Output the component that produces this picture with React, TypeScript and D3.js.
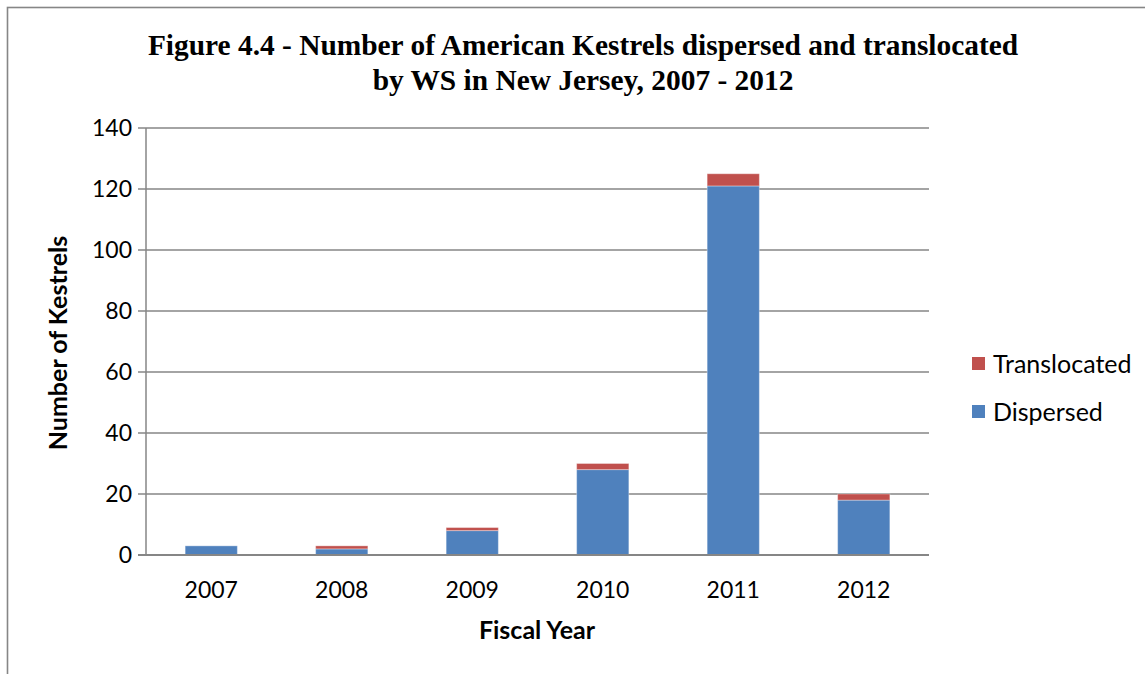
import React from "react";
import * as d3 from "d3";

const years = ["2007", "2008", "2009", "2010", "2011", "2012"];
const dispersed = [3, 2, 8, 28, 121, 18];
const translocated = [0, 1, 1, 2, 4, 2];
const yTicks = [0, 20, 40, 60, 80, 100, 120, 140];
const seriesNames = ["Dispersed", "Translocated"];
const seriesColors = ["#4F81BD", "#C0504D"];
const titleLines = [
  "Figure 4.4 - Number of American Kestrels dispersed and translocated",
  "by WS in New Jersey, 2007 - 2012",
];

const W = 1145;
const H = 674;
const plot = { left: 146, right: 929, top: 128, bottom: 555 };
const sans = "Lato, 'Open Sans', sans-serif";
const serif = "'Liberation Serif', 'Times New Roman', serif";

export default function App() {
  const x = d3
    .scaleBand<string>()
    .domain(years)
    .range([plot.left, plot.right])
    .paddingInner(0.6)
    .paddingOuter(0.3);
  const y = d3.scaleLinear().domain([0, 140]).range([plot.bottom, plot.top]);

  const rows = years.map((yr, i) => ({ yr, Dispersed: dispersed[i], Translocated: translocated[i] }));
  const stack = d3.stack<any>().keys(seriesNames)(rows);

  return (
    <svg
      width={W}
      height={H}
      style={{ position: "absolute", left: 0, top: 0, background: "#fff" }}
    >
      <rect x={7.5} y={7.5} width={W + 10} height={H + 10} fill="#fff" stroke="#868686" strokeWidth={1.6} />
      {titleLines.map((t, i) => (
        <text
          key={i}
          x={583}
          y={55 + i * 35}
          textAnchor="middle"
          fontFamily={serif}
          fontWeight="bold"
          fontSize={29.4}
          fill="#000"
        >
          {t}
        </text>
      ))}
      {yTicks.map((t) => (
        <g key={t}>
          {t > 0 && (
            <line x1={plot.left} x2={plot.right} y1={y(t)} y2={y(t)} stroke="#868686" strokeWidth={1.5} />
          )}
          <line x1={plot.left - 8} x2={plot.left} y1={y(t)} y2={y(t)} stroke="#868686" strokeWidth={1.5} />
          <text
            x={plot.left - 14}
            y={y(t)}
            dy="0.36em"
            textAnchor="end"
            fontFamily={sans}
            fontSize={23}
            fill="#000"
          >
            {t}
          </text>
        </g>
      ))}
      {stack.map((s, si) =>
        s.map((d, i) => (
          <rect
            key={si + "-" + i}
            x={x(years[i])}
            width={x.bandwidth()}
            y={y(d[1])}
            height={Math.max(0, y(d[0]) - y(d[1]))}
            fill={seriesColors[si]}
            stroke={d[1] - d[0] > 0 ? "#fff" : "none"}
            strokeOpacity={0.35}
            strokeWidth={1}
          />
        ))
      )}
      <line x1={plot.left} x2={plot.left} y1={plot.top} y2={plot.bottom} stroke="#868686" strokeWidth={1.5} />
      <line x1={plot.left - 8} x2={plot.right} y1={plot.bottom} y2={plot.bottom} stroke="#868686" strokeWidth={2} />
      {years.map((yr) => (
        <text
          key={yr}
          x={(x(yr) as number) + x.bandwidth() / 2}
          y={598}
          textAnchor="middle"
          fontFamily={sans}
          fontSize={23}
          fill="#000"
        >
          {yr}
        </text>
      ))}
      <text x={537} y={639} textAnchor="middle" fontFamily={sans} fontWeight="bold" fontSize={25} fill="#000">
        Fiscal Year
      </text>
      <text
        transform="translate(67,343) rotate(-90)"
        textAnchor="middle"
        fontFamily={sans}
        fontWeight="bold"
        fontSize={25}
        fill="#000"
      >
        Number of Kestrels
      </text>
      {[1, 0].map((si, k) => (
        <g key={si} transform={`translate(972,${357 + k * 48})`}>
          <rect width={13} height={13} fill={seriesColors[si]} />
          <text x={21} y={7} dy="0.36em" fontFamily={sans} fontSize={25} fill="#000">
            {seriesNames[si]}
          </text>
        </g>
      ))}
    </svg>
  );
}
